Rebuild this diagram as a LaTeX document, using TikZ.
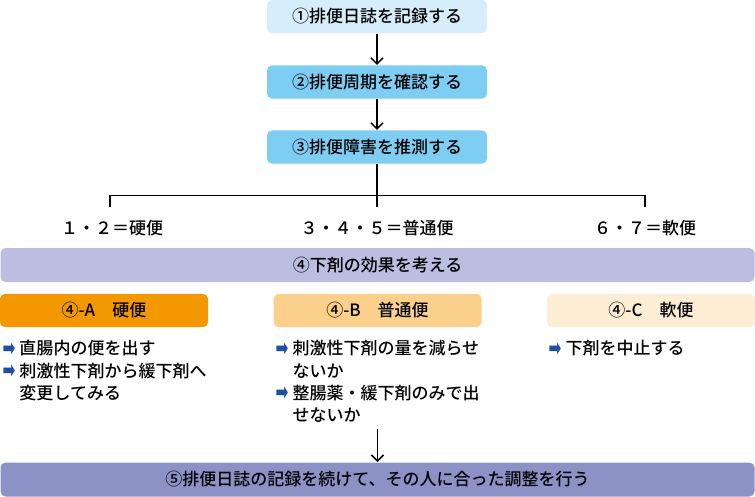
\documentclass[tikz,border=0pt]{standalone}
\usepackage{fontspec}
\setmainfont{Noto Sans CJK JP}[UprightFont=* Medium]
\newfontfamily\arrowfont{DejaVu Sans}
\usepackage{tikz}
\usetikzlibrary{arrows.meta,positioning}
\tikzset{every picture/.style={line width=0.75pt}}

\definecolor{steplight}{RGB}{214,238,251}
\definecolor{stepblue}{RGB}{126,206,244}
\definecolor{effectband}{RGB}{187,190,224}
\definecolor{adjustband}{RGB}{140,145,198}
\definecolor{hardfill}{RGB}{243,152,0}
\definecolor{normalfill}{RGB}{251,208,139}
\definecolor{softfill}{RGB}{253,237,213}
\definecolor{bulletblue}{RGB}{29,80,162}

\newcommand\jp{\fontsize{12.75}{16.75}\selectfont}
\newcommand\bul{\makebox[12.75pt][l]{\smash{\raisebox{-1pt}{\scalebox{0.85}[1.35]{\arrowfont\fontsize{13.5}{13.5}\selectfont\textcolor{bulletblue}{➡}}}}}}
\newcommand\hang{\hspace*{12.75pt}}

\tikzset{
	stepbox/.style={rounded corners=3.75pt, minimum width=165pt, minimum height=25pt, inner sep=0pt, font=\jp},
	band/.style={rounded corners=3.75pt, minimum width=565.5pt, minimum height=25.5pt, inner sep=0pt, font=\jp},
	typebox/.style={rounded corners=3.75pt, minimum width=156pt, minimum height=25pt, inner sep=0pt, font=\jp},
	labeltext/.style={inner sep=0pt, font=\jp},
	listtext/.style={inner sep=0pt, align=left, anchor=north west, font=\jp},
	flowarrow/.style={line width=1.1pt, -{Straight Barb[length=4.5pt,width=9pt,line width=1.1pt]}},
}

\begin{document}
\begin{tikzpicture}[x=0.75pt,y=0.75pt,yscale=-1,xscale=1]
		\useasboundingbox (0,0) rectangle (755,496);
		
		%Step boxes
		\node[stepbox, fill=steplight] (record) at (377,16.5) {①排便日誌を記録する};
		\node[stepbox, fill=stepblue] (cycle) at (377,82) {②排便周期を確認する};
		\node[stepbox, fill=stepblue] (guess) at (377,147) {③排便障害を推測する};
		
		\draw[flowarrow] (record) -- (cycle);
		\draw[flowarrow] (cycle) -- (guess);
		
		%Bracket
		\coordinate (hardtop) at (110,207);
		\coordinate (softtop) at (645,207);
		\draw [line width=1.1pt] (guess.south) -- (guess.south |- hardtop);
		\draw [line width=1.1pt] (hardtop) -- ++(0,-11.5) -| (softtop);
		
		% Text Node
		\node[labeltext] (hard) at (112,228) {１・２＝硬便};
		% Text Node
		\node[labeltext] (normal) at (377,228) {３・４・５＝普通便};
		% Text Node
		\node[labeltext] (soft) at (645,228) {６・７＝軟便};
		
		%Effect band
		\node[band, fill=effectband] (effect) at (377.5,265) {④下剤の効果を考える};
		
		%Type boxes
		\node[typebox, fill=hardfill] (hardbox) at (104,310.5) {④-A　硬便};
		\node[typebox, fill=normalfill] (normalbox) at (377.5,310.5) {④-B　普通便};
		\node[typebox, fill=softfill] (softbox) at (651,310.5) {④-C　軟便};
		
		%Lists
		\node[listtext] (hardlist) at (2,340) {\bul 直腸内の便を出す\\\bul 刺激性下剤から緩下剤へ\\\hang 変更してみる};
		\node[listtext] (normallist) at (275,340) {\bul 刺激性下剤の量を減らせ\\\hang ないか\\\bul 整腸薬・緩下剤のみで出\\\hang せないか};
		\node[listtext] (softlist) at (548,340) {\bul 下剤を中止する};
		
		%Adjust band
		\node[band, fill=adjustband] (adjust) at (377.5,479.5) {⑤排便日誌の記録を続けて、その人に合った調整を行う};
		
		\draw[flowarrow] ([yshift=4.5pt]adjust.north |- normallist.south) -- (adjust.north);
		
\end{tikzpicture}
\end{document}
